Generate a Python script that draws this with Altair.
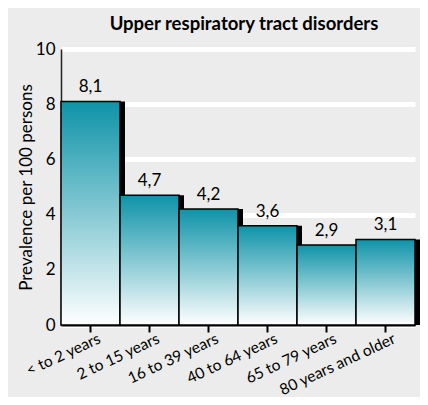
import altair as alt
import pandas as pd

categories = ["< to 2 years", "2 to 15 years", "16 to 39 years",
              "40 to 64 years", "65 to 79 years", "80 years and older"]
values = [8.1, 4.7, 4.2, 3.6, 2.9, 3.1]
labels = [f"{v:.1f}".replace(".", ",") for v in values]
y_ticks = [0, 2, 4, 6, 8, 10]
title_text = "Upper respiratory tract disorders"
y_title = "Prevalence per 100 persons"

df = pd.DataFrame({"cat": categories, "val": values, "lab": labels})

FONT = "Lato"

x = alt.X("cat:N", sort=categories,
          scale=alt.Scale(paddingInner=0, paddingOuter=0),
          axis=alt.Axis(title=None, labelAngle=-25, labelAlign="right",
                        labelBaseline="top", labelFontSize=15.5, labelFont=FONT,
                        labelColor="black", labelPadding=-1, labelOffset=6,
                        domainColor="black", domainWidth=2,
                        tickColor="black", tickWidth=2, tickSize=7,
                        grid=False))
y = alt.Y("val:Q", scale=alt.Scale(domain=[0, 10]),
          axis=alt.Axis(values=y_ticks, title=y_title, titleFont=FONT,
                        titleFontSize=17, titleFontWeight="normal",
                        titleColor="black", titlePadding=0,
                        labelFont=FONT, labelFontSize=17, labelColor="black",
                        labelPadding=6, ticks=False,
                        domainColor="#222", domainWidth=1.5,
                        grid=True, gridColor="white", gridWidth=5))

base = alt.Chart(df)

shadow = base.mark_bar(color="black", xOffset=5).encode(x=x, y=y)

grad = alt.Gradient(gradient="linear",
                    stops=[alt.GradientStop(color="#0e93a8", offset=0),
                           alt.GradientStop(color="#ffffff", offset=1)],
                    x1=0, x2=0, y1=0, y2=1)
bars = base.mark_bar(stroke="black", strokeWidth=1.5, color=grad).encode(x=x, y=y)

text = base.mark_text(dy=-5, baseline="bottom", fontSize=17, font=FONT,
                      color="black").encode(x=x, y=y, text="lab:N")

chart = alt.layer(shadow, bars, text).properties(
    width=354, height=276,
    title=alt.TitleParams(title_text, font=FONT, fontSize=18.5, fontWeight="bold",
                          color="black", anchor="middle", offset=7, dx=6),
    padding={"left": 53, "top": 41, "right": 5, "bottom": 72},
    autosize=alt.AutoSizeParams(type="none"),
).configure(background="#ebeceb").configure_view(stroke=None)

chart.save("out.html", embed_options={"renderer": "svg", "actions": False})
